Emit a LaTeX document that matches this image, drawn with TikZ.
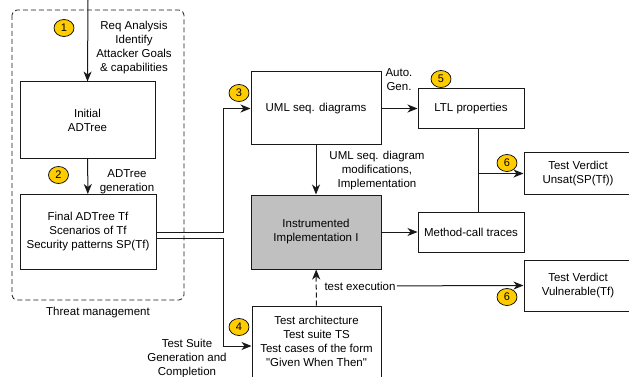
\documentclass[tikz,border=0pt]{standalone}
\usepackage{fontspec}
\setmainfont{Liberation Sans}
\usetikzlibrary{%
  arrows,%
  arrows.meta,%
  shapes,% wg. ellipse
  positioning%
}
\definecolor{numyellow}{RGB}{255,204,0}
\definecolor{instgray}{RGB}{192,192,192}

\begin{document}
\begin{tikzpicture}[
  x=1pt, y=-1pt,
  font=\fontsize{11.5}{14}\selectfont, >={Stealth[length=10pt,width=8pt,inset=3pt]},
  line width=1pt, draw=black!90,
  blk/.style={rectangle, draw=black!90, align=center, inner sep=0pt},
  numb/.style={ellipse, draw=black, fill=numyellow, minimum width=20pt, minimum height=17pt,
    inner sep=0pt, line width=0.7pt, font=\fontsize{11}{11}\selectfont},
  txt/.style={align=center, inner sep=1pt}
]
\useasboundingbox (0,0) rectangle (629,377);
\clip (0,0) rectangle (629,377);

\draw[dash pattern=on 5pt off 3pt, rounded corners=5pt, line width=0.8pt] (12,10) rectangle (184,300);
\node[txt] (threat-lbl) at (98,313) {Threat management};

\node[blk, minimum width=135pt, minimum height=76pt] (init) at (87.5,120) {Initial\\ADTree};
\node[blk, minimum width=136pt, minimum height=75pt] (final) at (88,232) {Final ADTree Tf\\Scenarios of Tf\\Security patterns SP(Tf)};
\node[blk, minimum width=130pt, minimum height=73pt] (uml) at (316,108.5) {UML seq. diagrams};
\node[blk, minimum width=130pt, minimum height=74pt, fill=instgray] (inst) at (316,232) {Instrumented\\Implementation I};
\node[blk, minimum width=106pt, minimum height=40pt] (ltl) at (471,108.5) {LTL properties};
\node[blk, minimum width=106pt, minimum height=40pt] (mct) at (471,232) {Method-call traces};
\node[blk, minimum width=108pt, minimum height=41pt] (unsat) at (578,173.5) {Test Verdict\\Unsat(SP(Tf))};
\node[blk, minimum width=108pt, minimum height=51pt] (vuln) at (578,285.5) {Test Verdict\\Vulnerable(Tf)};
\node[blk, minimum width=129pt, minimum height=80pt] (test) at (316.5,346) {};
\node[txt] (test-txt) at (316.5,341) {Test architecture\\Test suite TS\\Test cases of the form\\\textquotedbl Given When Then\textquotedbl};

\node[txt] (req-lbl) at (134,48) {Req Analysis\\Identify\\Attacker Goals\\\& capabilities};
\node[txt] (gen-lbl) at (127,182) {ADTree\\generation};
\node[txt] (auto-lbl) at (399,80) {Auto.\\Gen.};
\node[txt] (mod-lbl) at (377,171) {UML seq. diagram\\modifications,\\Implementation};
\node[txt, anchor=west] (exec-lbl) at (323,286) {test execution};
\node[txt] (suite-lbl) at (187,359) {Test Suite\\Generation and\\Completion};

\node[numb] (n1) at (64,28) {1};
\node[numb] (n2) at (58.5,175) {2};
\node[numb] (n3) at (239,93) {3};
\node[numb] (n4) at (239,327) {4};
\node[numb] (n5) at (441,79) {5};
\node[numb] (n6a) at (507,163) {6};
\node[numb] (n6b) at (507,297) {6};

\coordinate (req-in) at (88,0);
\coordinate (split) at (478,173.5);

\draw[->] (req-in) -- (init.north);
\draw[->] (init) -- (final);
\draw[->] (final.east) -- ++(67,0) |- (uml.west);
\draw[->] ([yshift=-6pt]final.east) -- ++(67,0) |- (test.west);
\draw[->] (uml) -- (ltl);
\draw[->] (uml) -- (inst);
\draw[->] (inst) -- (mct);
\draw ([xshift=7pt]ltl.south) -- ([xshift=7pt]mct.north);
\draw[->] (split) -- (unsat.west);
\draw[->, dash pattern=on 5pt off 3pt] (test) -- (inst);
\draw[->] (exec-lbl) -- (vuln.west);
\end{tikzpicture}
\end{document}
